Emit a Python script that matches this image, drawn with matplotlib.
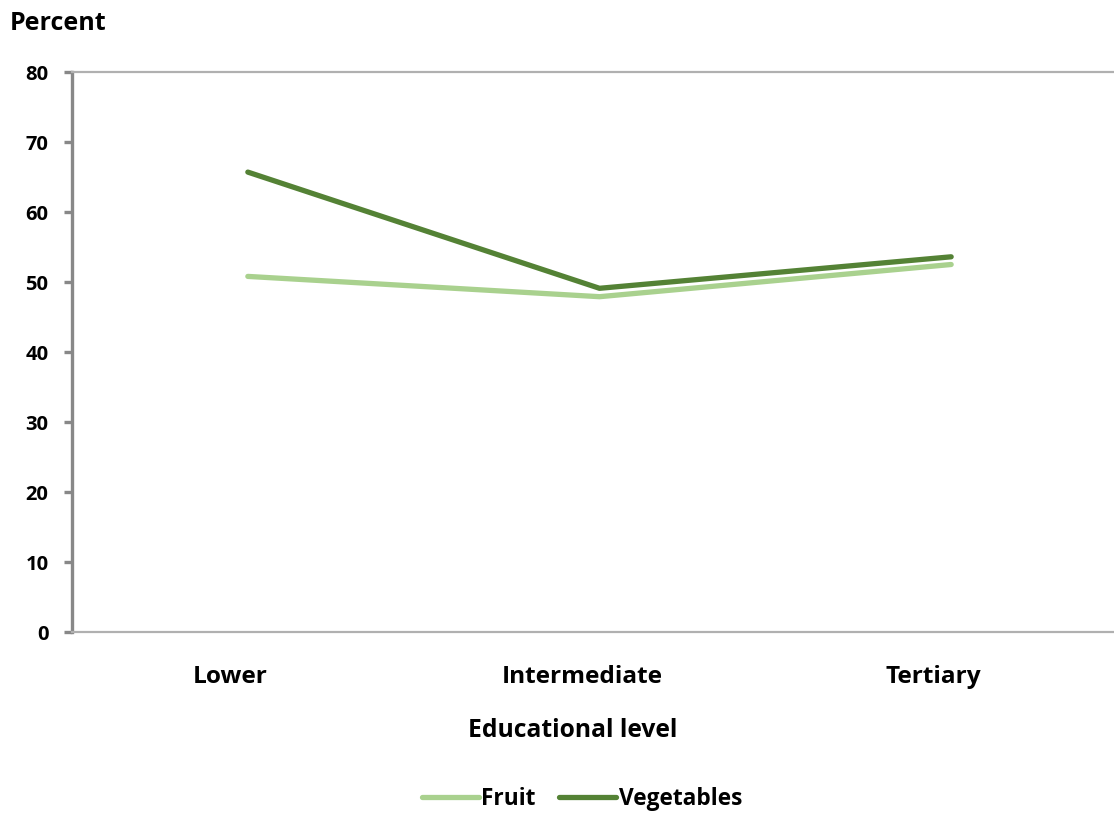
import matplotlib
matplotlib.use("Agg")
import matplotlib.pyplot as plt

categories = ["Lower", "Intermediate", "Tertiary"]
fruit = [50.8, 47.9, 52.5]
vegetables = [65.7, 49.1, 53.6]
yticks = [0, 10, 20, 30, 40, 50, 60, 70, 80]

plt.rcParams["font.family"] = ["Open Sans", "DejaVu Sans"]
plt.rcParams["font.weight"] = "bold"

fig = plt.figure(figsize=(11.14, 8.13), dpi=100)
ax = fig.add_axes([72 / 1114, 1 - 632 / 813, 1055 / 1114, 560 / 813])

x = [0.5, 1.5, 2.5]
ax.plot(x, fruit, color="#A9D18E", lw=3.8, solid_capstyle="round", label="Fruit")
ax.plot(x, vegetables, color="#548235", lw=3.8, solid_capstyle="round", label="Vegetables")

ax.set_xlim(0, 3)
ax.set_ylim(0, 80)
ax.set_yticks(yticks)
ax.set_yticklabels([str(v) for v in yticks], fontsize=14.5, fontweight="bold")

# category labels sit slightly left of the category centres
label_offset = 0.05
ax.set_xticks([v - label_offset for v in x])
ax.set_xticklabels(categories, fontsize=17.6, fontweight="bold")

ax.spines["left"].set_color("#888888")
ax.spines["left"].set_linewidth(2.4)
for s in ("top", "bottom"):
    ax.spines[s].set_color("#B0B0B0")
    ax.spines[s].set_linewidth(1.6)
ax.spines["right"].set_visible(False)

ax.tick_params(axis="y", length=6, width=2.4, color="#888888", pad=11)
ax.tick_params(axis="x", length=0, pad=24)

fig.text(10 / 1114, 1 - 23 / 813, "Percent", fontsize=18, fontweight="bold",
         ha="left", va="center")
fig.text(573 / 1114, 1 - 730 / 813, "Educational level", fontsize=17.7,
         fontweight="bold", ha="center", va="center")

fig.legend(loc="center", bbox_to_anchor=(582 / 1114, 1 - 799 / 813), ncol=2,
           frameon=False, handlelength=2.5, handletextpad=0.12, columnspacing=1.05,
           prop={"size": 16.3, "weight": "bold"})

fig.savefig("out.png", dpi=100)
